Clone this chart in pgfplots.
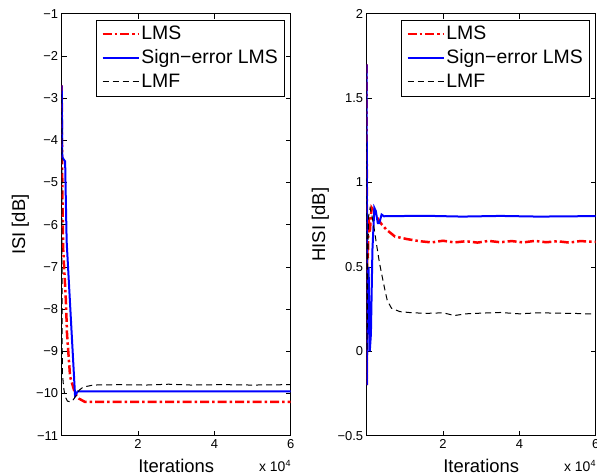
\documentclass[border=0pt]{standalone}
\usepackage{fontspec}
\setmainfont{Liberation Sans}
\usepackage{pgfplots}
\pgfplotsset{compat=1.18}

\pgfplotsset{
  mat/.style={
    scale only axis, width=229bp, height=422bp,
    xmin=0, xmax=60000,
    xtick={20000,40000,60000}, xticklabels={2,4,6},
    scaled x ticks=false,
    tick align=inside, major tick length=5bp,
    axis line style={line width=0.7bp},
    tick style={line width=0.6bp, black},
    tick label style={font=\fontsize{13}{13}\selectfont},
    label style={font=\fontsize{18.5}{18.5}\selectfont},
    xlabel={Iterations},
    xlabel style={at={(axis description cs:0.5,0)}, anchor=base, yshift=-36.5bp, inner sep=0pt},
    legend cell align=left,
    legend style={at={(axis description cs:1,1)}, anchor=north east,
      xshift=-6bp, yshift=-6bp, draw=black, line width=0.6bp,
      font=\fontsize{19.5}{19.5}\selectfont, inner xsep=5bp, inner ysep=4bp,
      row sep=4bp,
      /tikz/every even column/.append style={column sep=3bp},
      nodes={inner sep=1.5bp, text height=14bp, text depth=3bp}},
    legend image code/.code={\draw[#1] (0bp,0bp) -- (36bp,0bp);},
  },
  lms/.style={red, line width=2.5bp, dash pattern=on 9bp off 3bp on 2.5bp off 3bp},
  sel/.style={blue, line width=2bp},
  lmf/.style={black, line width=1bp, dash pattern=on 6bp off 4bp},
}

\begin{document}
\begin{tikzpicture}
\path[use as bounding box] (0,0) rectangle (597bp,475bp);

% left panel: ISI
\begin{axis}[mat, name=L, at={(61.7bp,39.3bp)}, anchor=south west,
    ymin=-11, ymax=-1, ytick={-11,-10,-9,-8,-7,-6,-5,-4,-3,-2,-1},
    yticklabels={−11,−10,−9,−8,−7,−6,−5,−4,−3,−2,−1},
    ylabel={ISI [dB]},
    ylabel style={at={(axis description cs:-0.160,0.5)}, anchor=base, inner sep=0pt}]
\addplot[lms] coordinates {(0,-2.7) (100,-4.5) (200,-5.4) (300,-6.0) (400,-6.6)
  (1100,-7.8) (1400,-8.6) (2200,-9.6) (3500,-10.0) (4500,-10.12) (6100,-10.2)
  (60000,-10.2)};
\addlegendentry{LMS}
\addplot[sel] coordinates {(0,-2.7) (80,-3.5) (150,-4.4) (500,-4.45) (900,-4.5)
  (1100,-5.5) (1300,-6.4) (3500,-10.05) (4200,-9.95) (60000,-9.95)};
\addlegendentry{Sign−error LMS}
\addplot[lmf] coordinates {(0,-3) (80,-7) (160,-9.5) (500,-9.85) (870,-10.07)
  (1500,-10.18) (2400,-10.2) (3000,-10.15) (3800,-10.05) (4600,-9.92) (5600,-9.85)
  (8200,-9.8) (15000,-9.79) (22000,-9.8) (28000,-9.78) (34000,-9.8) (42000,-9.79)
  (50000,-9.8) (60000,-9.79)};
\addlegendentry{LMF}
\end{axis}
\node[anchor=base east, inner sep=0pt, font=\fontsize{14}{14}\selectfont]
  at ([yshift=-35.5bp]L.south east) {x 10\raisebox{5bp}{\fontsize{9}{9}\selectfont 4}};

% right panel: HISI
\begin{axis}[mat, name=R, at={(366.7bp,39.3bp)}, anchor=south west,
    ymin=-0.5, ymax=2, ytick={-0.5,0,0.5,1,1.5,2},
    yticklabels={−0.5,0,0.5,1,1.5,2},
    ylabel={HISI [dB]},
    ylabel style={at={(axis description cs:-0.182,0.5)}, anchor=base, inner sep=0pt}]
\addplot[lms] coordinates {(0,1.7) (40,-0.2) (150,0.6) (300,0.55) (500,0.8)
  (800,0.7) (1100,0.8) (1300,0.85) (2200,0.82) (3000,0.78) (4000,0.75) (5200,0.72)
  (7400,0.68) (10500,0.665) (14000,0.652) (17000,0.645) (20000,0.655) (23000,0.645)
  (26000,0.652) (29000,0.644) (32000,0.654) (35000,0.646) (38000,0.653) (41000,0.645)
  (44000,0.654) (47000,0.646) (50000,0.652) (53000,0.644) (56000,0.653) (60000,0.648)};
\addlegendentry{LMS}
\addplot[sel] coordinates {(0,1.7) (50,-0.2) (150,0.45) (300,0.1) (500,0.5)
  (800,0.0) (1100,0.1) (1500,0.6) (2000,0.85) (2400,0.83) (2900,0.76) (3300,0.76)
  (3900,0.81) (4500,0.8) (15000,0.803) (25000,0.798) (35000,0.802) (45000,0.798)
  (60000,0.801)};
\addlegendentry{Sign−error LMS}
\addplot[lmf] coordinates {(0,0.82) (100,0.0) (250,0.5) (500,0.8) (900,0.85)
  (1400,0.8) (2000,0.72) (2600,0.63) (3300,0.53) (3900,0.46) (4800,0.36) (5400,0.3)
  (6500,0.255) (8700,0.235) (12000,0.228) (16000,0.225) (20000,0.228) (23000,0.212)
  (26000,0.222) (30000,0.226) (35000,0.23) (40000,0.222) (45000,0.228) (50000,0.226)
  (55000,0.224) (60000,0.22)};
\addlegendentry{LMF}
\end{axis}
\node[anchor=base east, inner sep=0pt, font=\fontsize{14}{14}\selectfont]
  at ([yshift=-35.5bp]R.south east) {x 10\raisebox{5bp}{\fontsize{9}{9}\selectfont 4}};
\end{tikzpicture}
\end{document}
